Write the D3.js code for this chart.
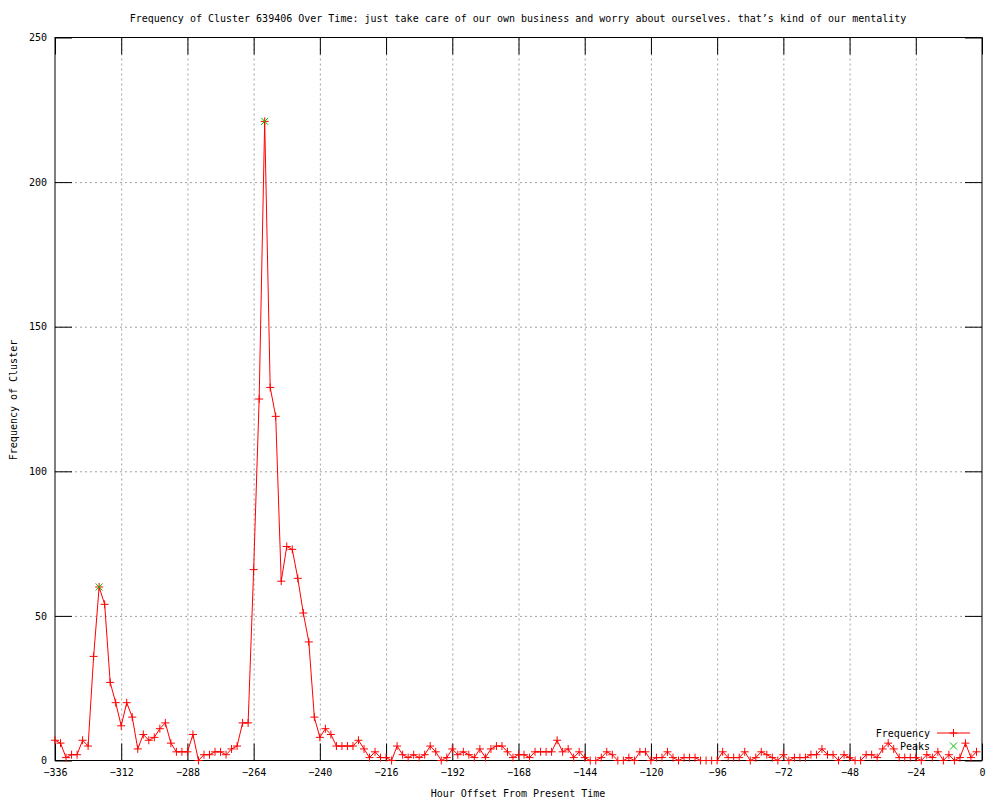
<!DOCTYPE html>
<html>
<head>
<meta charset="utf-8">
<script src="https://cdn.jsdelivr.net/npm/d3@7"></script>
<style>
body { margin: 0; background: #fff; }
text { font-family: "DejaVu Sans Mono", monospace; font-size: 10px; fill: #000; }
</style>
</head>
<body>
<svg id="chart" width="1000" height="800"></svg>
<script>
// hour offsets, one sample every 2 hours from -336
var startHour = -336, stepHours = 2;
var freq = [
	7, 6, 1, 2, 2, 7, 5, 36, 60, 54,
	27, 20, 12, 20, 15, 4, 9, 7, 8, 11,
	13, 6, 3, 3, 3, 9, 0, 2, 2, 3,
	3, 2, 4, 5, 13, 13, 66, 125, 221, 129,
	119, 62, 74, 73, 63, 51, 41, 15, 8, 11,
	9, 5, 5, 5, 5, 7, 4, 1, 3, 1,
	1, 0, 5, 2, 1, 2, 1, 2, 5, 3,
	0, 1, 4, 2, 3, 2, 1, 4, 1, 4,
	5, 5, 3, 1, 2, 2, 1, 3, 3, 3,
	3, 7, 3, 4, 1, 3, 1, 0, 0, 1,
	3, 2, 0, 0, 1, 0, 3, 3, 0, 1,
	1, 3, 1, 0, 1, 1, 1, 0, 0, 0,
	0, 3, 1, 1, 1, 3, 0, 1, 3, 2,
	1, 0, 2, 0, 1, 1, 1, 2, 2, 4,
	2, 2, 0, 2, 1, 0, 0, 2, 2, 1,
	4, 6, 4, 1, 1, 1, 1, 0, 2, 1,
	3, 0, 2, 0, 1, 6, 1, 3
];
var peakHours = [-320, -260];
var xTicks = [-336, -312, -288, -264, -240, -216, -192, -168, -144, -120, -96, -72, -48, -24, 0];
var yTicks = [0, 50, 100, 150, 200, 250];

var titleText = "Frequency of Cluster 639406 Over Time: just take care of our own business and worry about ourselves. that\u2019s kind of our mentality";

var plotLeft = 55, plotRight = 982, plotTop = 37.5, plotBottom = 760.5;
var tickLen = 17;

var data = freq.map(function(v, i){ return {h: startHour + i*stepHours, v: v}; });
var peaks = data.filter(function(d){ return peakHours.indexOf(d.h) >= 0; });

var svg = d3.select('#chart');
var x = d3.scaleLinear().domain([-336, 0]).range([plotLeft, plotRight]);
var y = d3.scaleLinear().domain([0, 250]).range([plotBottom, plotTop]);

// grid
svg.append('g')
	.attr('transform', `translate(0, ${plotBottom})`)
	.call(d3.axisBottom(x).tickValues(xTicks.slice(1, -1)).tickSize(-(plotBottom-plotTop)).tickFormat(''))
	.call(g => g.select('.domain').remove())
	.selectAll('line').attr('stroke', '#a0a0a0').attr('stroke-dasharray', '2,3');
svg.append('g')
	.attr('transform', `translate(${plotLeft}, 0)`)
	.call(d3.axisLeft(y).tickValues(yTicks.slice(1, -1)).tickSize(-(plotRight-plotLeft)).tickFormat(''))
	.call(g => g.select('.domain').remove())
	.selectAll('line').attr('stroke', '#a0a0a0').attr('stroke-dasharray', '2,3');

// axes with inward ticks, mirrored on top and right
svg.append('g')
	.attr('transform', `translate(0, ${plotBottom})`)
	.call(d3.axisBottom(x).tickValues(xTicks).tickSize(-tickLen).tickPadding(8).tickSizeOuter(0))
	.select('.domain').remove();
svg.append('g')
	.attr('transform', `translate(0, ${plotTop})`)
	.call(d3.axisTop(x).tickValues(xTicks).tickSize(-tickLen).tickFormat('').tickSizeOuter(0))
	.select('.domain').remove();
svg.append('g')
	.attr('transform', `translate(${plotLeft}, 0)`)
	.call(d3.axisLeft(y).tickValues(yTicks).tickSize(-tickLen).tickPadding(8).tickSizeOuter(0))
	.select('.domain').remove();
svg.append('g')
	.attr('transform', `translate(${plotRight}, 0)`)
	.call(d3.axisRight(y).tickValues(yTicks).tickSize(-tickLen).tickFormat('').tickSizeOuter(0))
	.select('.domain').remove();
svg.selectAll('.tick text').attr('fill', '#000');
svg.selectAll('g').attr('font-family', null).attr('font-size', null);

svg.append('rect')
	.attr('x', plotLeft).attr('y', plotTop)
	.attr('width', plotRight-plotLeft).attr('height', plotBottom-plotTop)
	.attr('fill', 'none').attr('stroke', '#000').attr('stroke-width', 1);

// series
var line = d3.line().x(d => x(d.h)).y(d => y(d.v));
svg.append('path')
	.datum(data)
	.attr('d', line)
	.attr('fill', 'none')
	.attr('stroke', '#ff0000')
	.attr('stroke-width', 1);

function drawPlus(g, cx, cy){
	g.append('path')
		.attr('d', `M${cx-4},${cy}H${cx+4}M${cx},${cy-4}V${cy+4}`)
		.attr('stroke', '#ff0000').attr('stroke-width', 1).attr('fill', 'none');
}
function drawX(g, cx, cy){
	g.append('path')
		.attr('d', `M${cx-3.5},${cy-3.5}L${cx+3.5},${cy+3.5}M${cx-3.5},${cy+3.5}L${cx+3.5},${cy-3.5}`)
		.attr('stroke', '#00c000').attr('stroke-width', 1).attr('fill', 'none');
}
var marks = svg.append('g');
data.forEach(function(d){ drawPlus(marks, x(d.h), y(d.v)); });
var peakG = svg.append('g');
peaks.forEach(function(d){ drawX(peakG, x(d.h), y(d.v)); });

// legend
var legend = svg.append('g');
legend.append('text').attr('x', 930).attr('y', 733).attr('dy', '0.35em').attr('text-anchor', 'end').text('Frequency');
legend.append('line').attr('x1', 937).attr('x2', 970).attr('y1', 733).attr('y2', 733).attr('stroke', '#ff0000');
drawPlus(legend, 953.5, 733);
legend.append('text').attr('x', 930).attr('y', 746).attr('dy', '0.35em').attr('text-anchor', 'end').text('Peaks');
drawX(legend, 953.5, 746);

// titles
svg.append('text').attr('x', 518).attr('y', 18).attr('dy', '0.35em').attr('text-anchor', 'middle').text(titleText);
svg.append('text').attr('x', 518).attr('y', 793).attr('dy', '0.35em').attr('text-anchor', 'middle').text('Hour Offset From Present Time');
svg.append('text').attr('transform', 'translate(13, 400) rotate(-90)').attr('dy', '0.35em').attr('text-anchor', 'middle').text('Frequency of Cluster');
</script>
</body>
</html>
